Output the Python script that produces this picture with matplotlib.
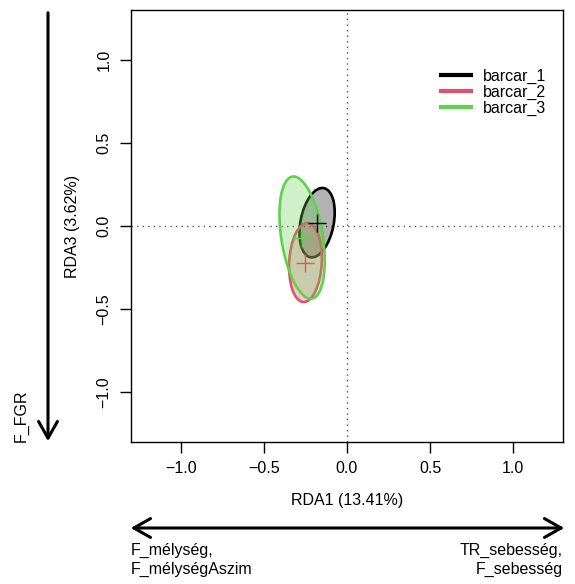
import matplotlib
matplotlib.use("Agg")
import matplotlib.pyplot as plt
from matplotlib.patches import Ellipse, FancyArrowPatch
import matplotlib.colors as mcolors

plt.rcParams['font.family'] = ['Liberation Sans', 'DejaVu Sans']

# Group ellipses in RDA1 / RDA3 space
groups = ["barcar_1", "barcar_2", "barcar_3"]
colors = ["#000000", "#DF536B", "#61D04F"]
centers_x = [-0.18, -0.25, -0.27]
centers_y = [0.02, -0.22, -0.07]
semi_major = [0.212, 0.238, 0.372]
semi_minor = [0.100, 0.098, 0.125]
angles = [-11.0, -3.0, 9.0]   # tilt of the major axis from vertical, degrees

xticks = [-1.0, -0.5, 0.0, 0.5, 1.0]
yticks = [-1.0, -0.5, 0.0, 0.5, 1.0]
xlabel = "RDA1 (13.41%)"
ylabel = "RDA3 (3.62%)"
lim = 1.3

W, H = 575, 584
fig = plt.figure(figsize=(W / 100, H / 100), dpi=100)
ax = fig.add_axes([131 / W, 1 - 442 / H, 432 / W, 432 / H])

ax.axhline(0, color="#555555", ls=(0, (1, 3)), lw=1, zorder=0)
ax.axvline(0, color="#555555", ls=(0, (1, 3)), lw=1, zorder=0)

for g, c, cx, cy, a, b, ang in zip(groups, colors, centers_x, centers_y,
                                   semi_major, semi_minor, angles):
    fc = mcolors.to_rgba(c, 0.3)
    e = Ellipse((cx, cy), width=2 * b, height=2 * a, angle=ang,
                facecolor=fc, edgecolor=c, lw=1.9)
    ax.add_patch(e)
    ax.plot([cx], [cy], marker="+", ms=13, mew=1.0, color=c, ls="none")
    ax.plot([], [], color=c, lw=3, label=g)

ax.set_xlim(-lim, lim)
ax.set_ylim(-lim, lim)
ax.set_xticks(xticks)
ax.set_yticks(yticks)
ax.set_xticklabels([f"{v:.1f}".replace("-", "\u2212") for v in xticks], fontsize=11.5)
ax.set_yticklabels([f"{v:.1f}".replace("-", "\u2212") for v in yticks], fontsize=11.5,
                   rotation=90, va="center")
ax.tick_params(direction="out", length=8, width=1, pad=6)
for s in ax.spines.values():
    s.set_linewidth(1)
ax.set_xlabel(xlabel, fontsize=11.5, labelpad=12)
ax.set_ylabel(ylabel, fontsize=11.5, labelpad=12)

ax.legend(loc="upper left", bbox_to_anchor=((441 - 131) / 432, (442 - 69) / 432),
          frameon=False, fontsize=11.5, handlelength=1.85, handletextpad=0.75,
          labelspacing=0.05, borderaxespad=0, borderpad=0)

# Biplot direction arrows in figure pixel space
def px(x, y):
    return (x / W, 1 - y / H)

arr_v = FancyArrowPatch(px(48, 10), px(48, 444), transform=fig.transFigure,
                        arrowstyle="->,head_length=0.6,head_width=0.34",
                        mutation_scale=20, lw=2.2, color="black")
fig.patches.append(arr_v)
arr_h = FancyArrowPatch(px(128, 528), px(567, 528), transform=fig.transFigure,
                        arrowstyle="<->,head_length=0.6,head_width=0.34",
                        mutation_scale=20, lw=2.2, color="black")
fig.patches.append(arr_h)

fig.text(*px(21, 442), "F_FGR", rotation=90, ha="center", va="bottom", fontsize=11.5)
fig.text(*px(131, 560), "F_mélység,\nF_mélységAszim", ha="left", va="center",
         fontsize=11.5, linespacing=1.25)
fig.text(*px(563, 560), "TR_sebesség,\nF_sebesség", ha="right", va="center",
         fontsize=11.5, linespacing=1.25, multialignment="right")

fig.savefig("out.png", dpi=100)
